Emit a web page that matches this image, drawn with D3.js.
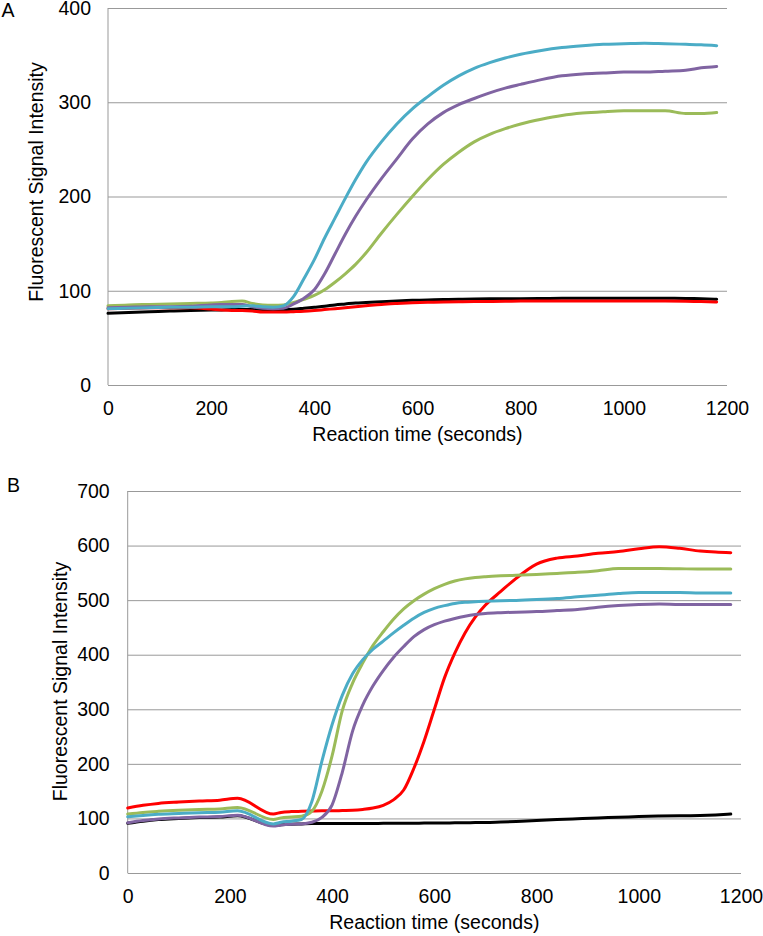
<!DOCTYPE html>
<html>
<head>
<meta charset="utf-8">
<script src="https://cdn.jsdelivr.net/npm/d3@7"></script>
<style>
  body { margin: 0; background: #fff; }
  svg, svg text { font-family: "Liberation Sans", Arial, sans-serif; }
  .tick text { font-size: 19.5px; fill: #000; font-family: "Liberation Sans", Arial, sans-serif; }
  .lbl { font-size: 19.5px; fill: #000; }
</style>
</head>
<body>
<div id="chart"></div>
<script>
// ---- data ----
const xTicks = [0, 200, 400, 600, 800, 1000, 1200];
const yTicksA = [0, 100, 200, 300, 400];
const yTicksB = [0, 100, 200, 300, 400, 500, 600, 700];

// Panel A
const timesA = [0, 40, 80, 120, 160, 200, 220, 240, 260, 280, 300, 320, 340, 360, 380, 400, 420, 440, 460, 480, 500,
  530, 560, 590, 620, 650, 680, 710, 740, 770, 800, 840, 880, 920, 960, 1000, 1040, 1080, 1120, 1150, 1180];
const blackA = [76, 77, 77.8, 78.4, 79, 79.5, 79.7, 80, 80, 80, 79.8, 79.8, 80, 80.5, 81.5, 82.5, 83.5, 85, 86, 87, 87.5,
  88.4, 89.2, 89.8, 90.3, 90.7, 91, 91.2, 91.4, 91.5, 91.5, 91.7, 92, 92, 92, 92, 92, 92, 91.8, 91.5, 91];
const redA = [81, 81.5, 82, 82, 82, 80.5, 79.5, 79, 79, 78.5, 77.5, 77.5, 77.5, 77.8, 78.2, 79, 80, 81, 82, 83, 84,
  85.5, 86.5, 87.3, 87.8, 88, 88.3, 88.5, 88.7, 88.8, 89, 89, 89, 89.2, 89.2, 89.2, 89.2, 89, 88.8, 88.5, 88];
const greenA = [84, 85, 85.5, 86, 86.5, 87, 87.5, 88.5, 89, 86.5, 85, 84.5, 85, 87.5, 91, 95, 101, 109, 118, 128, 140,
  161, 181, 200, 218, 234, 247, 258, 266, 272, 277, 282, 286, 288.5, 290, 291, 291, 291, 288, 288, 289];
const purpleA = [82, 82.5, 83, 83, 83.5, 85, 85.5, 85.5, 85.5, 83, 81.5, 81, 81.5, 86, 92, 101, 118, 139, 160, 179, 196,
  219, 240, 261, 277, 289, 297.5, 304, 310, 315, 319, 324, 328, 330, 331, 332, 332, 333, 334, 336.5, 338];
const cyanA = [81, 81.5, 82, 82.5, 82.5, 83, 83, 83, 83.5, 84, 83, 82.5, 84, 94, 113, 133, 156, 177, 198, 218, 236,
  258, 277, 293, 306, 318, 328, 336, 342, 347, 351, 355, 358, 360, 361.5, 362, 362.5, 362, 361.5, 361, 360];

// Panel B
const timesB = [0, 30, 60, 100, 140, 180, 215, 285, 300, 320, 340, 360, 380, 400, 420, 440, 460, 480, 500,
  520, 540, 560, 580, 600, 620, 640, 660, 680, 700, 730, 760, 800, 840, 880, 920, 960, 1000, 1040, 1080, 1120, 1150, 1180];
const blackB = [91, 95, 98, 100, 101.5, 102.5, 105, 87, 88.5, 89.5, 90, 90.5, 90.5, 90.5, 90.5, 90.5, 90.5, 90.5, 91,
  91, 91, 91, 91.5, 91.5, 91.5, 92, 92, 92.5, 92.5, 93.5, 94.5, 96, 98, 99.5, 101, 102, 103.5, 104.5, 105, 105.5, 106.5, 108];
const redB = [119, 124, 127.5, 130, 132, 133.5, 137, 108, 111, 112.5, 113, 113.5, 114, 114, 114.5, 115, 116.5, 119, 124,
  134, 152, 192, 242, 300, 358, 403, 440, 469, 491, 516, 540, 566, 577, 581, 586, 589, 594, 598, 595, 590, 588, 587];
const greenB = [108, 111, 113, 115, 116.5, 117.5, 120, 98, 101, 102.5, 104, 113, 150, 215, 298, 348, 385, 417, 442,
  465, 484, 499, 511, 521, 529, 535, 539, 541.5, 543, 544.5, 545.5, 547, 549, 551, 554, 558, 558, 558, 557.5, 557, 557, 557];
const purpleB = [92, 96, 99, 101, 102.5, 103.5, 106, 86, 88, 89.5, 90, 93, 102, 125, 185, 260, 308, 343, 371,
  395, 415, 433, 446, 455, 461.5, 466.5, 470.5, 473.5, 475.5, 477, 478, 479, 481, 483, 487, 490, 492, 493, 492, 492, 492, 492];
const cyanB = [103, 105.5, 107.5, 109, 110.5, 111.5, 114, 90, 93, 95, 98, 130, 205, 272, 326, 365, 391, 410, 425,
  440, 454, 467, 477.5, 485, 490, 494, 496, 497, 498, 499, 499.5, 501, 503, 506, 509, 512, 514, 514, 514, 513, 513, 513];

const colors = { black: "#000000", red: "#FF0000", green: "#9BBB59", purple: "#8064A2", cyan: "#4BACC6" };

(() => {
    const width = 763, height = 936;
    const gridColor = "#999999";

    const svg = d3.select("#chart")
        .append("svg")
        .attr("width", width)
        .attr("height", height);

    svg.append("rect").attr("width", width).attr("height", height).attr("fill", "#fff");

    function drawPanel(p) {
        const x = d3.scaleLinear().domain([0, 1200]).range([p.left, p.right]);
        const y = d3.scaleLinear().domain([0, p.yMax]).range([p.bottom, p.top]);

        // gridlines + y labels
        const yAxis = svg.append("g")
            .attr("transform", `translate(${p.left},0)`)
            .call(d3.axisLeft(y).tickValues(p.yTicks).tickSize(-(p.right - p.left)).tickPadding(p.yPad));
        yAxis.attr("font-family", null).attr("font-size", null);
        yAxis.select(".domain").remove();
        yAxis.selectAll(".tick line").attr("stroke", gridColor).attr("stroke-width", 1);

        // left axis line
        svg.append("line")
            .attr("x1", p.left).attr("x2", p.left)
            .attr("y1", p.top).attr("y2", p.bottom)
            .attr("stroke", gridColor);

        const xAxis = svg.append("g")
            .attr("transform", `translate(0,${p.bottom})`)
            .call(d3.axisBottom(x).tickValues(xTicks).tickFormat(d3.format("d")).tickSize(0).tickPadding(16));
        xAxis.attr("font-family", null).attr("font-size", null);
        xAxis.select(".domain").remove();

        const line = d3.line()
            .x((d, i) => x(p.times[i]))
            .y(d => y(d))
            .curve(d3.curveMonotoneX);

        p.series.forEach(s => {
            svg.append("path")
                .datum(s.values)
                .attr("fill", "none")
                .attr("stroke", s.color)
                .attr("stroke-width", 3)
                .attr("stroke-linejoin", "round")
                .attr("stroke-linecap", "round")
                .attr("d", line);
        });

        svg.append("text")
            .attr("class", "lbl")
            .attr("x", (p.left + p.right) / 2)
            .attr("y", p.bottom + 56)
            .attr("text-anchor", "middle")
            .text("Reaction time (seconds)");

        svg.append("text")
            .attr("class", "lbl")
            .attr("transform", `translate(${p.yTitleX},${p.yTitleY}) rotate(-90)`)
            .attr("text-anchor", "middle")
            .text("Fluorescent Signal Intensity");

        svg.append("text")
            .attr("class", "lbl")
            .attr("x", p.tagX)
            .attr("y", p.tagY)
            .text(p.tag);
    }

    drawPanel({
        tag: "A", tagX: 1.5, tagY: 17,
        left: 108, right: 727, top: 8, bottom: 385,
        yMax: 400, yTicks: yTicksA, yPad: 17,
        yTitleX: 43, yTitleY: 182,
        times: timesA,
        series: [
            { values: blackA, color: colors.black },
            { values: redA, color: colors.red },
            { values: greenA, color: colors.green },
            { values: purpleA, color: colors.purple },
            { values: cyanA, color: colors.cyan }
        ]
    });

    drawPanel({
        tag: "B", tagX: 7, tagY: 492,
        left: 127.7, right: 741, top: 491, bottom: 873,
        yMax: 700, yTicks: yTicksB, yPad: 18,
        yTitleX: 66.5, yTitleY: 681.5,
        times: timesB,
        series: [
            { values: blackB, color: colors.black },
            { values: redB, color: colors.red },
            { values: greenB, color: colors.green },
            { values: purpleB, color: colors.purple },
            { values: cyanB, color: colors.cyan }
        ]
    });
})();
</script>
</body>
</html>
